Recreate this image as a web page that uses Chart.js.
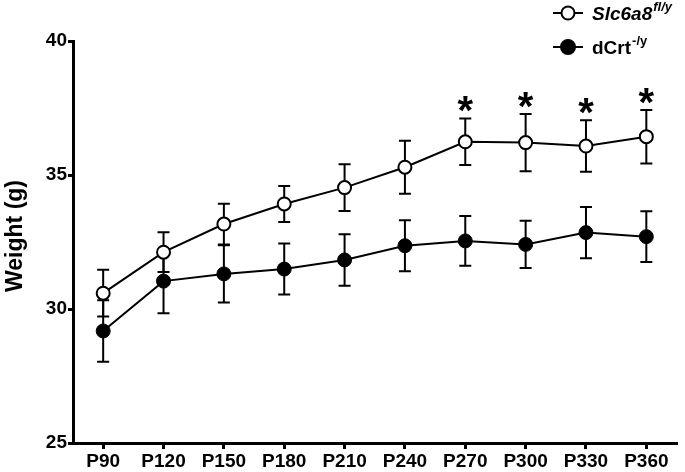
<!DOCTYPE html>
<html>
<head>
<meta charset="utf-8">
<script src="https://cdn.jsdelivr.net/npm/chart.js@4.4.1/dist/chart.umd.min.js"></script>
<style>
    html, body { margin: 0; padding: 0; background: #fff; }
    #wrap { width: 685px; height: 472px; }
</style>
</head>
<body>
<div id="wrap"><canvas id="weightChart" width="685" height="472"></canvas></div>
<script>
// data (mean +/- error, grams)
const categories = ['P90', 'P120', 'P150', 'P180', 'P210', 'P240', 'P270', 'P300', 'P330', 'P360'];
const slcMean = [30.59, 32.12, 33.17, 33.92, 34.53, 35.29, 36.24, 36.21, 36.08, 36.43];
const slcErr = [0.87, 0.74, 0.76, 0.67, 0.87, 0.99, 0.87, 1.07, 0.96, 1.00];
const dcrtMean = [29.18, 31.04, 31.31, 31.49, 31.83, 32.36, 32.54, 32.41, 32.85, 32.70];
const dcrtErr = [1.15, 1.20, 1.07, 0.95, 0.96, 0.95, 0.93, 0.88, 0.96, 0.95];
const significance = ['', '', '', '', '', '', '*', '*', '*', '*'];
const seriesNames = ['Slc6a8', 'dCrt'];
const seriesSup = ['fl/y', '-/y'];
const yTicks = [25, 30, 35, 40];
const yTitle = 'Weight (g)';

const FONT = "'Liberation Sans', Arial, sans-serif";

// error bars go under the lines and markers
const errorBars = {
    id: 'errorBars',
    beforeDatasetsDraw(chart) {
        const ctx = chart.ctx;
        const x = chart.scales.x;
        const y = chart.scales.y;
        const errs = [slcErr, dcrtErr];
        ctx.save();
        ctx.strokeStyle = '#000';
        ctx.lineWidth = 2;
        chart.data.datasets.forEach((ds, i) => {
            ds.data.forEach((v, j) => {
                const px = x.getPixelForValue(j);
                const top = y.getPixelForValue(v + errs[i][j]);
                const bot = y.getPixelForValue(v - errs[i][j]);
                ctx.beginPath();
                ctx.moveTo(px, top);
                ctx.lineTo(px, bot);
                ctx.moveTo(px - 6, top);
                ctx.lineTo(px + 6, top);
                ctx.moveTo(px - 6, bot);
                ctx.lineTo(px + 6, bot);
                ctx.stroke();
            });
        });
        ctx.restore();
    }
};

const starsAndLegend = {
    id: 'starsAndLegend',
    afterDraw(chart) {
        const ctx = chart.ctx;
        const x = chart.scales.x;
        const y = chart.scales.y;
        ctx.save();
        ctx.fillStyle = '#000';

        // y title, drawn by hand so it sits where the original does
        ctx.save();
        ctx.translate(16, 236);
        ctx.rotate(-Math.PI / 2);
        ctx.font = 'bold 23px ' + FONT;
        ctx.textAlign = 'center';
        ctx.textBaseline = 'middle';
        ctx.fillText(yTitle, 0, 0);
        ctx.restore();

        // significance stars above the upper caps
        ctx.font = 'bold 40px ' + FONT;
        ctx.textAlign = 'center';
        ctx.textBaseline = 'alphabetic';
        significance.forEach((s, j) => {
            if (!s) return;
            const m = ctx.measureText(s);
            const cy = y.getPixelForValue(slcMean[j] + slcErr[j]) - 14;
            const mid = (m.actualBoundingBoxAscent - m.actualBoundingBoxDescent) / 2;
            ctx.fillText(s, x.getPixelForValue(j), cy + mid);
        });

        // legend with superscripts
        const rows = [
            { y: 13, fill: '#fff', r: 6.5, italic: true },
            { y: 47, fill: '#000', r: 7, italic: false }
        ];
        ctx.textAlign = 'left';
        rows.forEach((row, i) => {
            ctx.strokeStyle = '#000';
            ctx.lineWidth = 2;
            ctx.beginPath();
            ctx.moveTo(553, row.y);
            ctx.lineTo(583, row.y);
            ctx.stroke();
            ctx.beginPath();
            ctx.arc(568, row.y, row.r, 0, Math.PI * 2);
            ctx.fillStyle = row.fill;
            ctx.fill();
            ctx.stroke();

            ctx.fillStyle = '#000';
            const style = row.italic ? 'italic bold ' : 'bold ';
            ctx.font = style + '19px ' + FONT;
            const base = row.y + 7;
            ctx.fillText(seriesNames[i], 592, base);
            const w = ctx.measureText(seriesNames[i]).width;
            ctx.font = style + '13px ' + FONT;
            ctx.fillText(seriesSup[i], 592 + w + 1, base - 9);
        });
        ctx.restore();
    }
};

new Chart(document.getElementById('weightChart'), {
    type: 'line',
    data: {
        labels: categories,
        datasets: [
            {
                label: seriesNames[0],
                data: slcMean,
                borderColor: '#000',
                borderWidth: 2,
                pointBackgroundColor: '#fff',
                pointBorderColor: '#000',
                pointBorderWidth: 2,
                pointRadius: 6.5,
                tension: 0
            },
            {
                label: seriesNames[1],
                data: dcrtMean,
                borderColor: '#000',
                borderWidth: 2,
                pointBackgroundColor: '#000',
                pointBorderColor: '#000',
                pointBorderWidth: 1,
                pointRadius: 7,
                tension: 0
            }
        ]
    },
    options: {
        responsive: false,
        animation: false,
        layout: { padding: { top: 41, right: 2, left: 0, bottom: 0 } },
        plugins: {
            legend: { display: false },
            tooltip: { enabled: false }
        },
        scales: {
            x: {
                offset: true,
                border: { display: true, color: '#000', width: 3 },
                grid: { drawOnChartArea: false, drawTicks: true, tickLength: 6, color: '#000', lineWidth: 3 },
                ticks: { color: '#000', font: { family: FONT, size: 19, weight: 'bold' }, padding: 1, maxRotation: 0, autoSkip: false },
                afterFit(scale) { scale.height = 29; }
            },
            y: {
                min: 25,
                max: 40,
                afterBuildTicks(scale) { scale.ticks = yTicks.map(v => ({ value: v })); },
                border: { display: true, color: '#000', width: 3 },
                grid: { drawOnChartArea: false, drawTicks: true, tickLength: 5, color: '#000', lineWidth: 3 },
                ticks: { color: '#000', font: { family: FONT, size: 19, weight: 'bold' }, padding: 1 },
                afterFit(scale) { scale.width = 73; }
            }
        }
    },
    plugins: [errorBars, starsAndLegend]
});
</script>
</body>
</html>
